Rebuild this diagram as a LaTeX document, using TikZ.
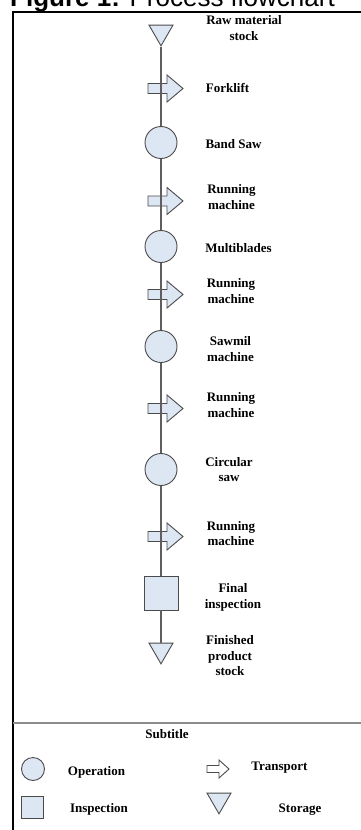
\documentclass[tikz,border=0pt]{standalone}
\usepackage{fontspec}
\setmainfont{Liberation Serif}
\newfontfamily\arialfont{Liberation Sans}
\usetikzlibrary{shapes.geometric}
\definecolor{shapefill}{RGB}{221,230,243}
\definecolor{shapeline}{RGB}{75,75,75}
\definecolor{flowline}{RGB}{95,95,95}
\definecolor{sepline}{RGB}{140,140,140}
\pgfdeclarelayer{bg}
\pgfsetlayers{bg,main}
\begin{document}
\begin{tikzpicture}[x=1pt,y=-1pt,
  opnode/.style={circle,draw=shapeline,fill=shapefill,line width=0.9pt,minimum size=32pt,inner sep=0pt},
  inspnode/.style={rectangle,draw=shapeline,fill=shapefill,line width=0.9pt,minimum size=34pt,inner sep=0pt},
  storenode/.style={regular polygon,regular polygon sides=3,shape border rotate=180,draw=shapeline,fill=shapefill,line width=0.9pt,minimum size=27.7pt,inner sep=0pt},
  lbl/.style={font=\bfseries\fontsize{13}{15.5}\selectfont,align=center,inner sep=0pt},
  flow/.style={draw=flowline,line width=1.1pt},
  transportpic/.pic={\path[draw=shapeline,fill=shapefill,line width=0.9pt,line join=miter]
      (-13,-5) -- (6,-5) -- (6,-13.5) -- (22,0) -- (6,13.5) -- (6,5) -- (-13,5) -- cycle;},
  legendarrow/.pic={\path[draw=shapeline,fill=white,line width=0.9pt,line join=miter]
      (-11,-3.5) -- (1,-3.5) -- (1,-9) -- (11,0) -- (1,9) -- (1,3.5) -- (-11,3.5) -- cycle;}
]
\useasboundingbox (0,0) rectangle (360,830);

% transport arrows (behind the flow line)
\begin{pgfonlayer}{bg}
  \fill[white] (0,0) rectangle (360,830);
  \pic at (161,88.5) {transportpic};
  \pic at (161,201) {transportpic};
  \pic at (161,294.5) {transportpic};
  \pic at (161,408.5) {transportpic};
  \pic at (161,536.5) {transportpic};
\end{pgfonlayer}

% title (cut off at the top)
\node[anchor=base west,inner sep=0pt,font=\arialfont\fontsize{26}{30}\selectfont] (title) at (10,6)
  {\textbf{Figure 1:} Process flowchart};

% frame
\draw[line width=2pt] (13,845) -- (13,11.5) -- (370,11.5);
\draw[draw=sepline,line width=1.4pt] (13,723) -- (370,723);

% main shapes
\node[storenode] (s1) at (161,32) {};
\node[opnode] (o1) at (161,142.5) {};
\node[opnode] (o2) at (161,246.5) {};
\node[opnode] (o3) at (161,346.5) {};
\node[opnode] (o4) at (161,469.5) {};
\node[inspnode] (i1) at (161,593) {};
\node[storenode] (s2) at (161,650) {};

% flow line
\draw[flow] (s1) -- (o1);
\draw[flow] (o1) -- (o2);
\draw[flow] (o2) -- (o3);
\draw[flow] (o3) -- (o4);
\draw[flow] (o4) -- (i1);
\draw[flow] (i1) -- (s2);

% labels
\node[lbl] (t0) at (244,28) {Raw material\\stock};
\node[lbl] (t1) at (227.5,88) {Forklift};
\node[lbl] (t2) at (233.5,144) {Band Saw};
\node[lbl] (t3) at (231.5,197) {Running\\machine};
\node[lbl] (t4) at (238.5,248) {Multiblades};
\node[lbl] (t5) at (231,291) {Running\\machine};
\node[lbl] (t6) at (230.5,349) {Sawmil\\machine};
\node[lbl] (t7) at (231,405) {Running\\machine};
\node[lbl] (t8) at (229,469.5) {Circular\\saw};
\node[lbl] (t9) at (231,533.5) {Running\\machine};
\node[lbl] (t10) at (233,597.5) {Final\\inspection};
\node[lbl] (t11) at (230,656) {Finished\\product\\stock};

% legend
\node[lbl] (sub) at (167,734) {Subtitle};
\node[opnode,minimum size=23pt] (lo) at (33,769) {};
\node[lbl] (lot) at (96.5,772) {Operation};
\node[inspnode,minimum size=22pt] (li) at (32,807) {};
\node[lbl] (lit) at (99,809) {Inspection};
\pic at (218,769) {legendarrow};
\node[lbl] (ltt) at (279.5,768) {Transport};
\node[storenode] (ls) at (219,800) {};
\node[lbl] (lst) at (300,810) {Storage};
\end{tikzpicture}
\end{document}
